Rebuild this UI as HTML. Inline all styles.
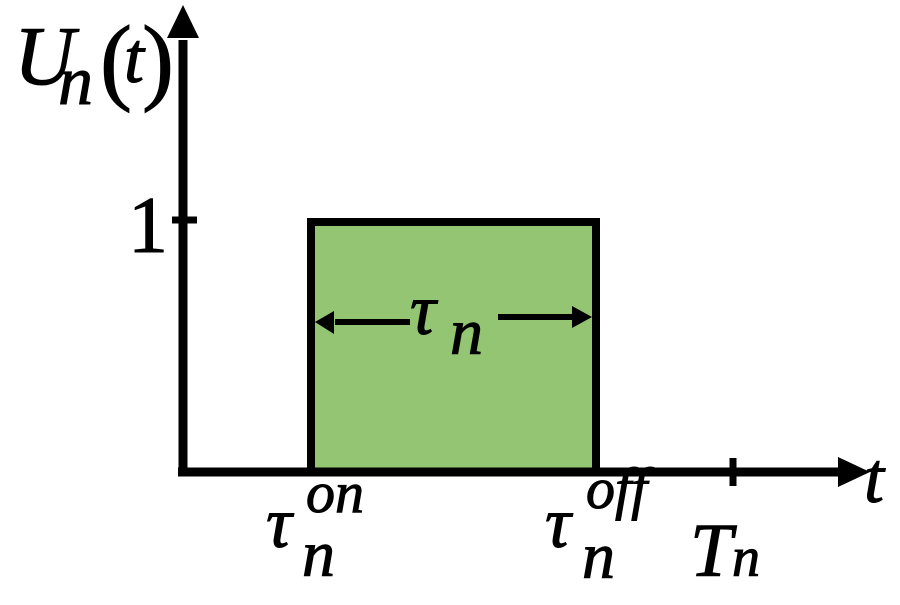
<!DOCTYPE html>
<html><head><style>html,body{margin:0;padding:0;background:#fff} text{font-family:"Liberation Serif","Times New Roman",Times,"DejaVu Serif",serif}</style></head><body>
<svg width="900" height="600" viewBox="0 0 900 600" xmlns="http://www.w3.org/2000/svg">
<rect x="311" y="222" width="285" height="250" fill="#93c572" stroke="#000" stroke-width="8"/>
<line x1="183" y1="40" x2="183" y2="476" stroke="#000" stroke-width="9"/>
<polygon points="183,5 167,38 199,38" fill="#000"/>
<line x1="178" y1="472" x2="840" y2="472" stroke="#000" stroke-width="9"/>
<polygon points="870,472 838,457 838,487" fill="#000"/>
<line x1="172" y1="220" x2="197" y2="220" stroke="#000" stroke-width="7"/>
<line x1="733" y1="458" x2="733" y2="486" stroke="#000" stroke-width="7"/>
<line x1="335" y1="322" x2="410" y2="322" stroke="#000" stroke-width="6"/>
<polygon points="315,322 334,311 334,334" fill="#000"/>
<line x1="498" y1="317" x2="572" y2="317" stroke="#000" stroke-width="6"/>
<polygon points="592,317 572,306 572,328" fill="#000"/>
<g font-style="italic" fill="#000" stroke="#000" stroke-width="1">
<text x="14" y="84" font-size="84">U</text>
<text x="58" y="104" font-size="70">n</text>
<text x="100" y="92" font-size="96" font-style="normal">(</text>
<text x="124" y="82" font-size="72">t</text>
<text x="142" y="92" font-size="96" font-style="normal">)</text>
<text x="128" y="252" font-size="80" font-style="normal">1</text>
<text x="410" y="334" font-size="72">τ</text>
<text x="450" y="354" font-size="66">n</text>
<text x="266" y="547" font-size="72">τ</text>
<text x="302" y="576" font-size="66">n</text>
<text x="306" y="512" font-size="58">on</text>
<text x="545" y="547" font-size="72">τ</text>
<text x="582" y="578" font-size="66">n</text>
<text x="586" y="508" font-size="58">off</text>
<text x="690" y="576" font-size="76">T</text>
<text x="732" y="576" font-size="56">n</text>
<text x="864" y="502" font-size="72">t</text>
</g>
</svg>
</body></html>
